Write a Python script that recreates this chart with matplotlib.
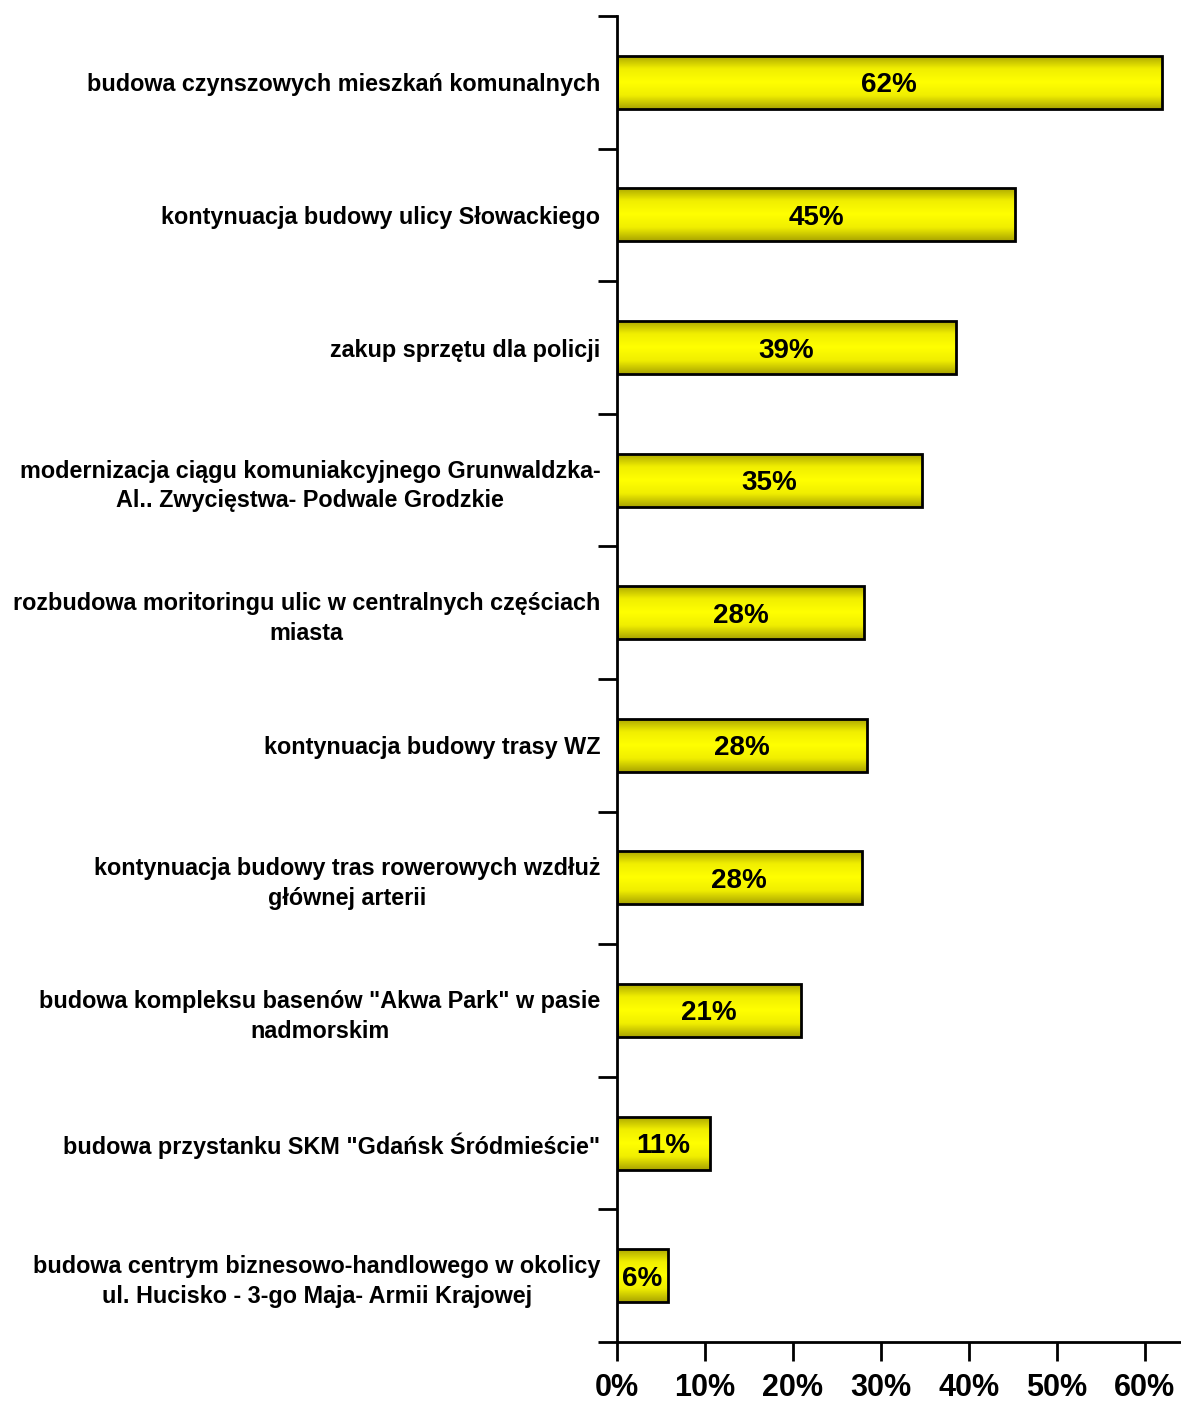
import numpy as np
import matplotlib
matplotlib.use("Agg")
import matplotlib.pyplot as plt
from matplotlib.colors import LinearSegmentedColormap

categories = [
    "budowa czynszowych mieszkań komunalnych",
    "kontynuacja budowy ulicy Słowackiego",
    "zakup sprzętu dla policji",
    "modernizacja ciągu komuniakcyjnego Grunwaldzka-\nAl.. Zwycięstwa- Podwale Grodzkie",
    "rozbudowa moritoringu ulic w centralnych częściach\nmiasta",
    "kontynuacja budowy trasy WZ",
    "kontynuacja budowy tras rowerowych wzdłuż\ngłównej arterii",
    "budowa kompleksu basenów \"Akwa Park\" w pasie\nnadmorskim",
    "budowa przystanku SKM \"Gdańsk Śródmieście\"",
    "budowa centrym biznesowo-handlowego w okolicy\nul. Hucisko - 3-go Maja- Armii Krajowej",
]
values = [61.9, 45.3, 38.5, 34.7, 28.1, 28.4, 27.8, 20.9, 10.6, 5.8]
value_labels = ["62%", "45%", "39%", "35%", "28%", "28%", "28%", "21%", "11%", "6%"]
xticks = [0, 10, 20, 30, 40, 50, 60]
xtick_labels = ["0%", "10%", "20%", "30%", "40%", "50%", "60%"]

plt.rcParams['font.family'] = ['Liberation Sans', 'DejaVu Sans']

fig = plt.figure(figsize=(11.81, 14.03), dpi=100)
ax = fig.add_axes([617/1181, 1 - 1342/1403, (1180-617)/1181, (1342-16)/1403])

n = len(categories)
ypos = np.arange(n)
bh = 0.4
grad = np.linspace(0, 1, 256).reshape(-1, 1)
grad = np.abs(grad - 0.5) * 2  # 1 at edges, 0 at center
cmap2 = LinearSegmentedColormap.from_list("yg2", ["#ffff00", "#f0ee00", "#a8a300"])

bars = ax.barh(ypos, values, height=bh, color="none", edgecolor="black", linewidth=2, zorder=3)
for b, lab in zip(bars, value_labels):
    x0, y0 = b.get_x(), b.get_y()
    w, h = b.get_width(), b.get_height()
    im = ax.imshow(grad, cmap=cmap2, aspect="auto", extent=[x0, x0 + w, y0 + h, y0],
                   zorder=2, interpolation="bicubic")
    im.set_clip_path(b)
    ax.text(x0 + w / 2, y0 + h / 2, lab, ha="center", va="center_baseline",
            fontsize=20, fontweight="bold", zorder=4)

ax.set_xlim(0, 64)
ax.set_ylim(n - 0.5, -0.5)

ax.set_yticks(ypos)
ax.set_yticklabels(categories, fontsize=16.8, fontweight="bold", multialignment="center",
                   linespacing=1.38)
ax.set_yticks(np.arange(-0.5, n, 1), minor=True)
ax.tick_params(axis="y", which="major", length=0, pad=12)
ax.tick_params(axis="y", which="minor", length=14, width=2, direction="out")

ax.set_xticks(xticks)
ax.set_xticklabels(xtick_labels, fontsize=22, fontweight="bold")
ax.tick_params(axis="x", length=14, width=2, direction="out", pad=8)

for s in ["top", "right"]:
    ax.spines[s].set_visible(False)
for s in ["left", "bottom"]:
    ax.spines[s].set_linewidth(2)

fig.savefig("out.png", dpi=100)
